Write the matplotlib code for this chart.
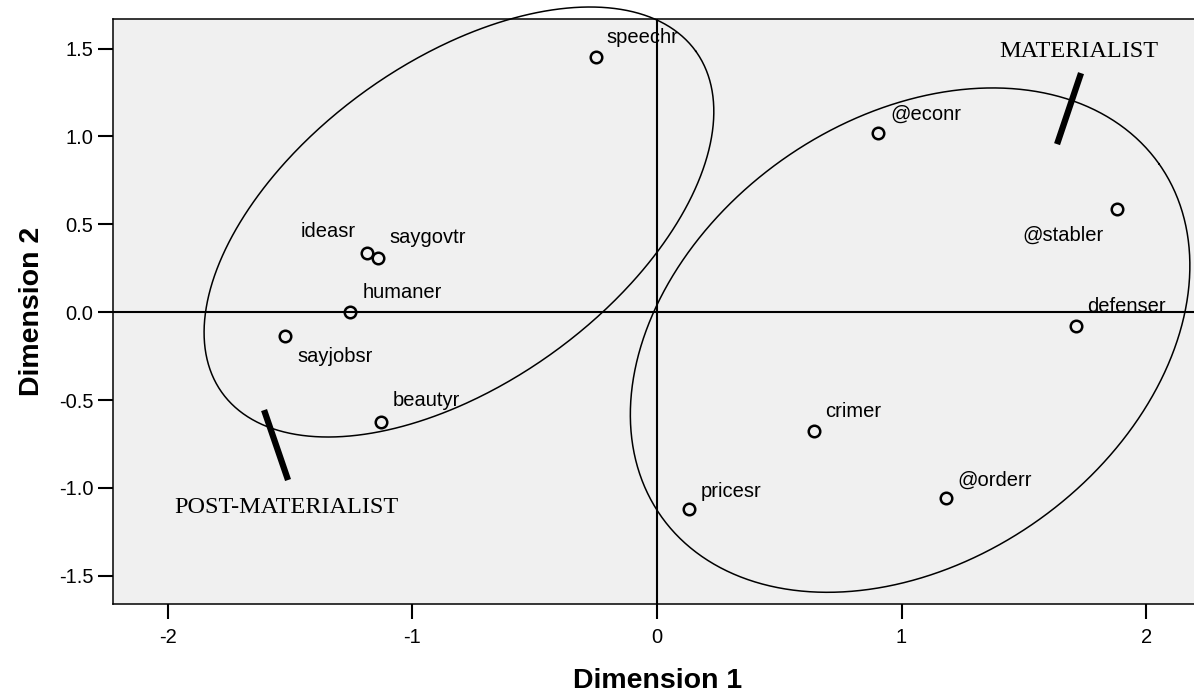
import numpy as np
import matplotlib
matplotlib.use("Agg")
import matplotlib.pyplot as plt

# Item coordinates from the two-dimensional scaling solution
items = ["speechr", "@econr", "@stabler", "ideasr", "saygovtr", "humaner",
         "sayjobsr", "beautyr", "defenser", "crimer", "@orderr", "pricesr"]
dim1 = [-0.25, 0.905, 1.88, -1.185, -1.14, -1.255,
        -1.52, -1.13, 1.715, 0.64, 1.18, 0.13]
dim2 = [1.45, 1.02, 0.585, 0.335, 0.31, 0.0,
        -0.135, -0.625, -0.08, -0.675, -1.06, -1.12]

# Label placement (pixel offsets from each point, horizontal alignment, vertical alignment)
label_offsets = {
    "speechr": (11, 14, "left", "baseline"),
    "@econr": (12, 13, "left", "baseline"),
    "@stabler": (-13, -31, "right", "baseline"),
    "ideasr": (-12, 16, "right", "baseline"),
    "saygovtr": (11, 15, "left", "baseline"),
    "humaner": (12, 14, "left", "baseline"),
    "sayjobsr": (12, -26, "left", "baseline"),
    "beautyr": (12, 16, "left", "baseline"),
    "defenser": (11, 14, "left", "baseline"),
    "crimer": (12, 14, "left", "baseline"),
    "@orderr": (12, 13, "left", "baseline"),
    "pricesr": (12, 12, "left", "baseline"),
}

xticks = [-2, -1, 0, 1, 2]
yticks = [-1.5, -1.0, -0.5, 0.0, 0.5, 1.0, 1.5]
xlim = (-2.226, 2.196)
ylim = (-1.662, 1.668)

# Group outlines: centre (data), semi-axes (pixels), rotation (degrees)
groups = [
    {"center": (-0.81, 0.513), "a": 292, "b": 161, "angle": 35.8},
    {"center": (1.035, -0.159), "a": 305, "b": 221, "angle": 35.3},
]

# Group captions with their pointer strokes
captions = [
    {"text": "MATERIALIST", "pos": (1.40, 1.452), "stroke": [(1.734, 1.36), (1.636, 0.956)]},
    {"text": "POST-MATERIALIST", "pos": (-1.975, -1.143), "stroke": [(-1.607, -0.557), (-1.509, -0.955)]},
]

W, H, DPI = 1194, 696, 100
fig = plt.figure(figsize=(W / DPI, H / DPI), dpi=DPI, facecolor="white")
ax = fig.add_axes([112.7 / W, 1 - 604.3 / H, 1 - 112.7 / W, (604.3 - 19) / H])
ax.set_facecolor("#f0f0f0")
ax.set_xlim(*xlim)
ax.set_ylim(*ylim)

sans = "Liberation Sans"
serif = "Liberation Serif"

for side in ["left", "bottom", "top"]:
    ax.spines[side].set_linewidth(1.1)
    ax.spines[side].set_color("black")
ax.spines["right"].set_visible(False)

ax.set_xticks(xticks)
ax.set_xticklabels([f"{t:d}" for t in xticks])
ax.set_yticks(yticks)
ax.set_yticklabels([f"{t:.1f}" for t in yticks])
ax.tick_params(axis="both", direction="out", length=11, width=1.5, color="black",
               labelsize=14.5, labelcolor="black")
ax.tick_params(axis="x", pad=6)
ax.tick_params(axis="y", pad=3)
for lab in ax.get_xticklabels() + ax.get_yticklabels():
    lab.set_family(sans)

# Reference lines through the origin
ax.axhline(0, color="black", lw=1.5, zorder=2)
ax.axvline(0, color="black", lw=1.5, zorder=2)

# Points
ax.plot(dim1, dim2, linestyle="none", marker="o", markersize=8.3,
        markerfacecolor="none", markeredgecolor="black", markeredgewidth=1.8, zorder=4)

for name, x, y in zip(items, dim1, dim2):
    dx, dy, ha, va = label_offsets[name]
    ax.annotate(name, (x, y), xytext=(dx, dy), textcoords="offset pixels",
                ha=ha, va=va, fontsize=14.5, family=sans, color="black", zorder=5)

# Group outlines drawn in screen space, mapped back to data coordinates
fig.canvas.draw()
t = np.linspace(0, 2 * np.pi, 600)
for g in groups:
    cx, cy = ax.transData.transform(g["center"])
    th = np.deg2rad(g["angle"])
    u = g["a"] * np.cos(t)
    v = g["b"] * np.sin(t)
    px = cx + u * np.cos(th) - v * np.sin(th)
    py = cy + u * np.sin(th) + v * np.cos(th)
    pts = ax.transData.inverted().transform(np.column_stack([px, py]))
    ax.plot(pts[:, 0], pts[:, 1], color="black", lw=1.1, clip_on=False, zorder=3)

for c in captions:
    (x0, y0), (x1, y1) = c["stroke"]
    ax.plot([x0, x1], [y0, y1], color="black", lw=4.5, solid_capstyle="butt", zorder=3)
    ax.text(c["pos"][0], c["pos"][1], c["text"], family=serif, fontsize=17.5,
            ha="left", va="baseline", color="black", zorder=5)

ax.set_xlabel("Dimension 1", family=sans, fontsize=20.5, fontweight="bold", va="center")
ax.set_ylabel("Dimension 2", family=sans, fontsize=20.5, fontweight="bold", va="center")
ax.xaxis.set_label_coords((658 - 112.7) / (W - 112.7), (604.3 - 681) / (604.3 - 19))
ax.yaxis.set_label_coords((32 - 112.7) / (W - 112.7), 0.5)

fig.savefig("out.png", dpi=DPI)
